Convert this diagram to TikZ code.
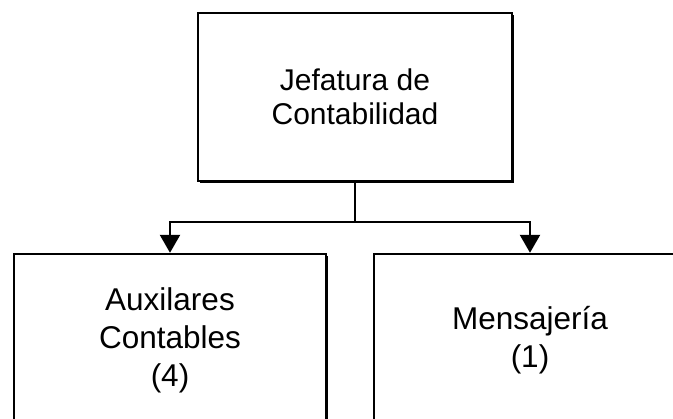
\documentclass[tikz,border=0pt]{standalone}
\usepackage{fontspec}
\setmainfont{Liberation Sans}
\usetikzlibrary{arrows.meta,shadows}
\usetikzlibrary{positioning}

\begin{document}
\begin{tikzpicture}[x=1pt,y=-1pt,>={Triangle[length=18pt,width=20pt]},line width=2.4pt,
  unit/.style={draw,fill=white,align=center,inner sep=0pt,drop shadow={shadow xshift=2pt,shadow yshift=-2pt,fill=black,opacity=1}},
  big/.style={font=\fontsize{30}{34}\selectfont},
  small/.style={font=\fontsize{31.5}{38}\selectfont}]
% page
\clip (0,0) rectangle (673,419);
% boxes
\node[unit,big,minimum width=314pt,minimum height=168pt] (jefe) at (355,97) {Jefatura de\\Contabilidad};
\node[unit,small,minimum width=312pt,minimum height=172pt] (aux) at (170,340) {Auxilares\\Contables\\(4)};
\node[unit,small,minimum width=312pt,minimum height=172pt] (mens) at (530,340) {Mensajería\\(1)};
% connectors
\coordinate[below=40pt of jefe] (split);
\draw (jefe) -- (split);
\draw[->] (split) -| (aux);
\draw[->] (split) -| (mens);
\end{tikzpicture}
\end{document}
